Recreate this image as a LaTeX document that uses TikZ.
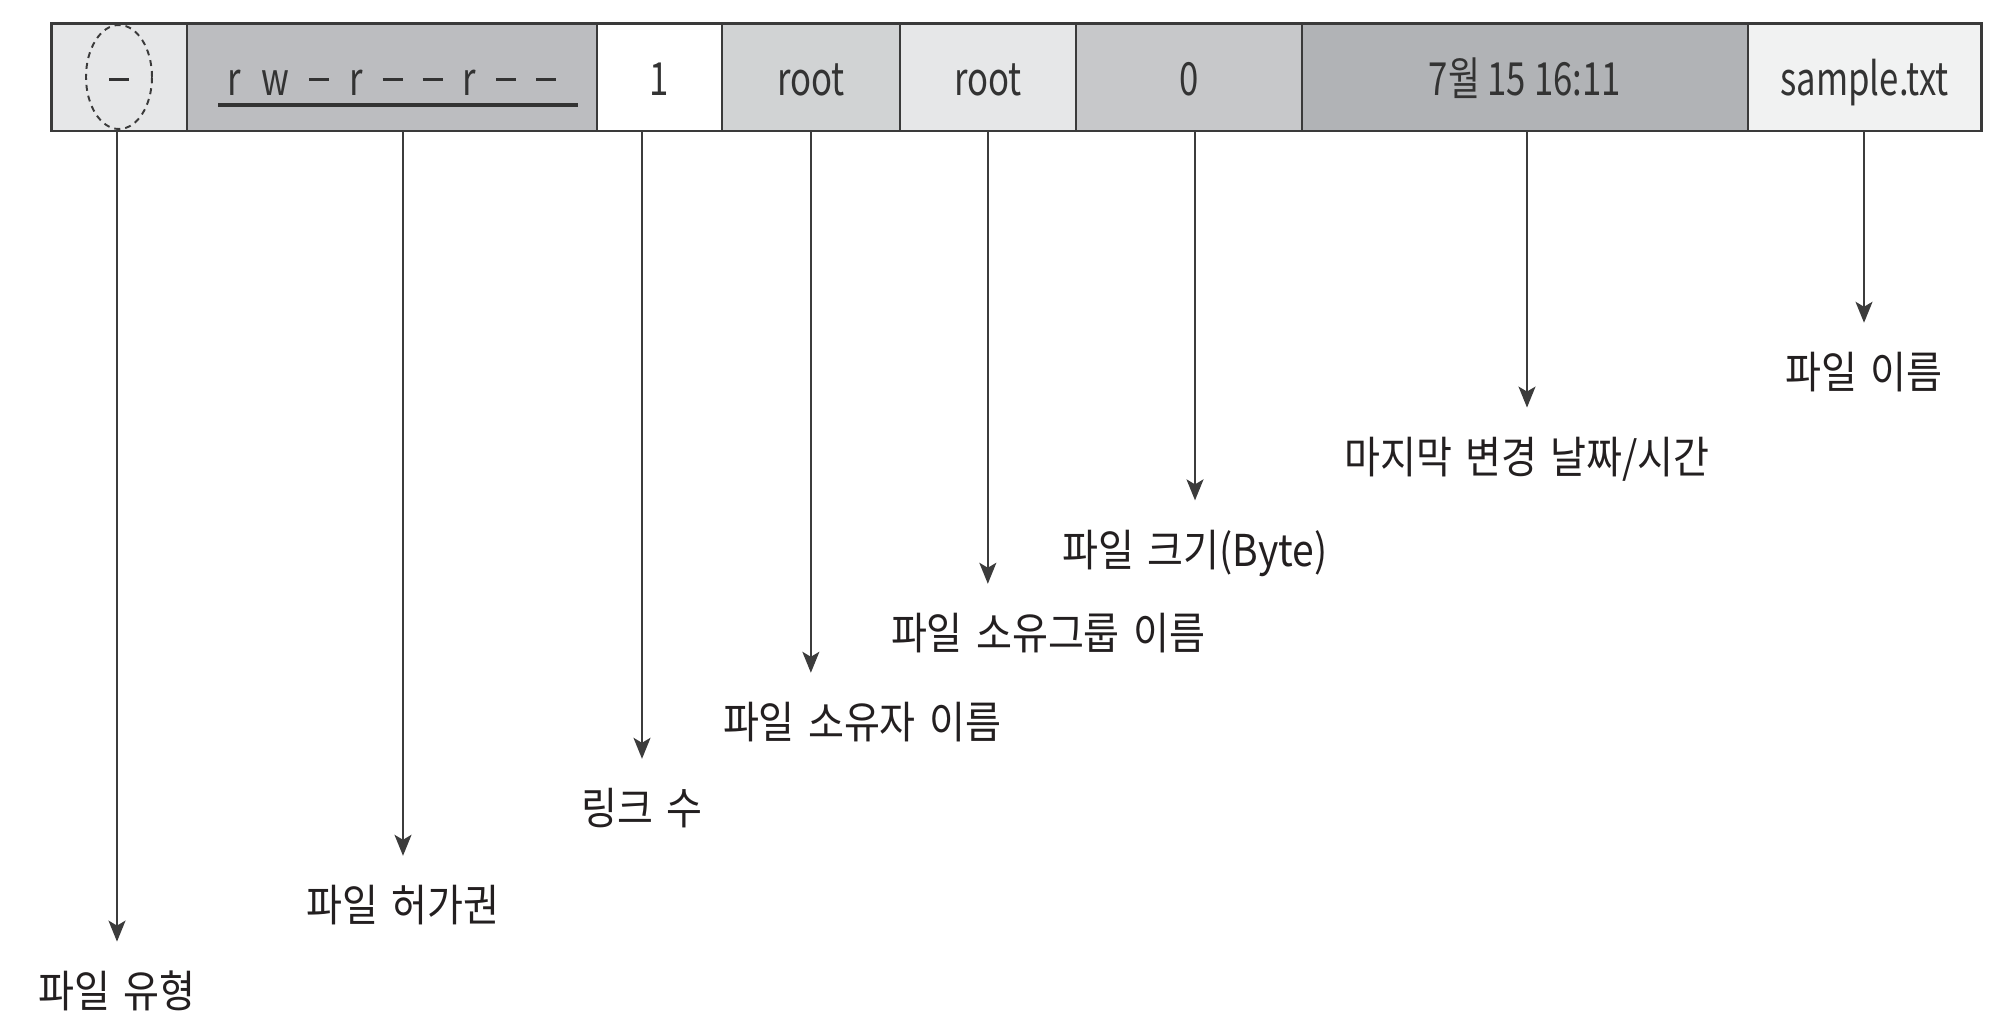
\documentclass[tikz,border=0pt]{standalone}
\usepackage{fontspec}
\newfontfamily\korfont{Noto Sans CJK KR}[FakeStretch=0.89, WordSpace=1.5]
\newfontfamily\cellfont{Noto Sans CJK KR}[FakeStretch=0.76]
\usetikzlibrary{arrows.meta, positioning, shapes.geometric}

\definecolor{fillpale}{HTML}{E6E7E8}
\definecolor{fillperm}{HTML}{BCBDC0}
\definecolor{fillowner}{HTML}{D1D3D4}
\definecolor{fillsize}{HTML}{C7C8CA}
\definecolor{filldate}{HTML}{B1B3B6}
\definecolor{fillname}{HTML}{F1F2F2}
\definecolor{framegray}{HTML}{3A3A3A}
\definecolor{textgray}{HTML}{333333}
\definecolor{arrowgray}{HTML}{3C3C3C}
\definecolor{labblack}{HTML}{231F20}

\newcommand{\permgap}{\hspace{0.4cm}}
\newcommand{\permdash}{\rule[0.28cm]{0.4cm}{0.055cm}}

\begin{document}
\begin{tikzpicture}[
      x=0.02cm, y=-0.02cm,
      cell/.style={rectangle, draw=framegray, line width=1.1pt, minimum height=2.16cm, inner sep=0pt, outer sep=0pt, text height=0.76cm, text depth=0.04cm, text=textgray, font=\cellfont\fontsize{26}{30}\selectfont},
      lab/.style={inner xsep=0pt, inner ysep=0.58cm, text=labblack, font=\korfont\fontsize{25}{30}\selectfont},
      arr/.style={->, line width=1.1pt, draw=arrowgray},
      >={Stealth[length=0.42cm, width=0.34cm, inset=0.1cm]}
    ]
    \useasboundingbox (0,0) rectangle (2000,1018);

    % Listing line
    \node[cell, fill=fillpale, minimum width=2.72cm] (cell_type) at (119,77) {\permdash};
    \node[cell, fill=fillperm, minimum width=8.2cm, right=0cm of cell_type] (cell_perm) {r\permgap w\permgap \permdash\permgap r\permgap \permdash\permgap \permdash\permgap r\permgap \permdash\permgap \permdash};
    \node[cell, fill=white, minimum width=2.5cm, right=0cm of cell_perm] (cell_link) {1};
    \node[cell, fill=fillowner, minimum width=3.56cm, right=0cm of cell_link] (cell_owner) {root};
    \node[cell, fill=fillpale, minimum width=3.52cm, right=0cm of cell_owner] (cell_group) {root};
    \node[cell, fill=fillsize, minimum width=4.52cm, right=0cm of cell_group] (cell_size) {0};
    \node[cell, fill=filldate, minimum width=8.92cm, right=0cm of cell_size] (cell_date) {7월 15 16:11};
    \node[cell, fill=fillname, minimum width=4.68cm, right=0cm of cell_date] (cell_name) {sample.txt};
    \draw[draw=framegray, line width=1.7pt] (cell_type.north west) rectangle (cell_name.south east);

    % Marks
    \node[ellipse, draw=framegray, dashed, dash pattern=on 0.12cm off 0.1cm, line width=1.1pt, minimum width=1.32cm, minimum height=2.08cm] (oval_type) at (cell_type) {};
    \draw[draw=textgray, line width=2.3pt] (218,105) -- (578,105);

    % Labels
    \node[lab] (lab_type) at (117,991) {파일 유형};
    \node[lab] (lab_perm) at (403,905) {파일 허가권};
    \node[lab] (lab_link) at (642,808) {링크 수};
    \node[lab] (lab_owner) at (862,722) {파일 소유자 이름};
    \node[lab] (lab_group) at (1048,633) {파일 소유그룹 이름};
    \node[lab] (lab_size) at (1195,553) {파일 크기(Byte)};
    \node[lab] (lab_date) at (1527,459) {마지막 변경 날짜/시간};
    \node[lab] (lab_name) at (1864,372) {파일 이름};

    % Connections
    \draw[arr] (lab_type.north |- cell_type.south) -- (lab_type.north);
    \draw[arr] (lab_perm.north |- cell_perm.south) -- (lab_perm.north);
    \draw[arr] (lab_link.north |- cell_link.south) -- (lab_link.north);
    \draw[arr] (cell_owner.south) -- (cell_owner.south |- lab_owner.north);
    \draw[arr] (cell_group.south) -- (cell_group.south |- lab_group.north);
    \draw[arr] (lab_size.north |- cell_size.south) -- (lab_size.north);
    \draw[arr] (lab_date.north |- cell_date.south) -- (lab_date.north);
    \draw[arr] (lab_name.north |- cell_name.south) -- (lab_name.north);

\end{tikzpicture}
\end{document}
